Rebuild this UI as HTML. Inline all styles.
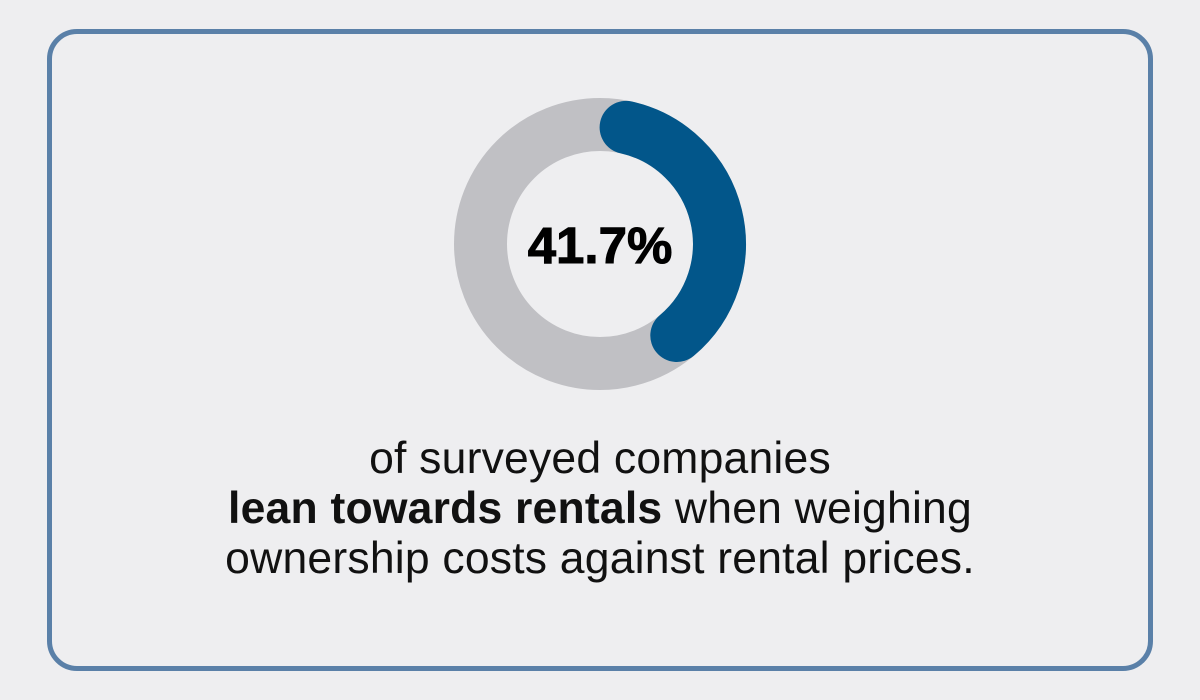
<!DOCTYPE html>
<html><head><style>
html,body{margin:0;padding:0;background:#eeeef0;}
body{width:1200px;height:700px;position:relative;overflow:hidden;font-family:"Liberation Sans",sans-serif;}
.box{position:absolute;left:47px;top:29px;width:1096px;height:632px;border:5px solid #5a80a8;border-radius:30px;}
.txt{position:absolute;left:0;width:1200px;top:434px;text-align:center;font-size:44.5px;line-height:50px;color:#111;letter-spacing:0.2px;}
</style></head><body>
<div class="box"></div>
<svg width="1200" height="700" style="position:absolute;left:0;top:0">
<circle cx="600" cy="244" r="119.5" fill="none" stroke="#c0c0c4" stroke-width="53"/>
<path d="M626.1,127.4 A119.5,119.5 0 0 1 676.8,335.5" fill="none" stroke="#02568a" stroke-width="53" stroke-linecap="round"/>
<text x="600" y="263" text-anchor="middle" font-family="Liberation Sans" font-weight="bold" font-size="51" fill="#000" stroke="#000" stroke-width="1">41.7%</text>
</svg>
<div class="txt">of surveyed companies<br><b>lean towards rentals</b> when weighing<br>ownership costs against rental prices.</div>
</body></html>
